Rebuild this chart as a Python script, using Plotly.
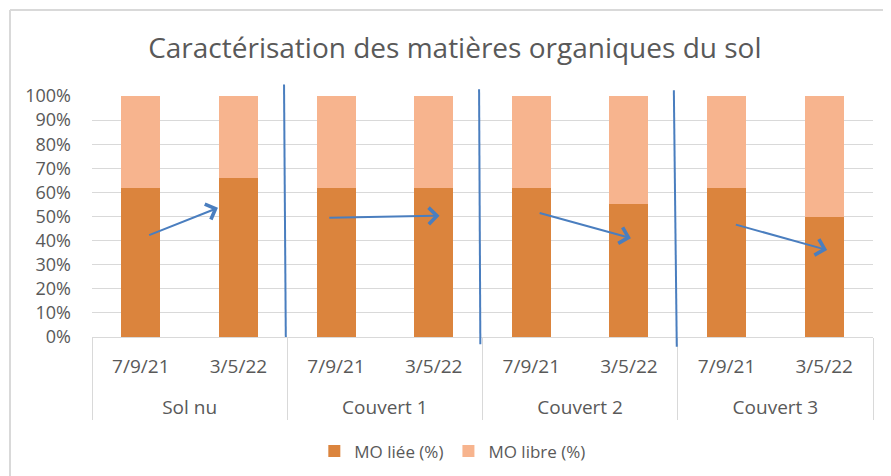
import plotly.graph_objects as go

groups = ["Sol nu", "Sol nu", "Couvert 1", "Couvert 1", "Couvert 2", "Couvert 2", "Couvert 3", "Couvert 3"]
dates = ["7/9/21", "3/5/22"] * 4
mo_liee = [0.62, 0.661, 0.62, 0.62, 0.62, 0.551, 0.62, 0.497]
mo_libre = [1 - v for v in mo_liee]

# hand-drawn arrows (category index, value)
arrow_x0 = [0.07, 1.915, 4.07, 6.08]
arrow_y0 = [0.42, 0.495, 0.516, 0.468]
arrow_x1 = [0.79, 3.06, 5.02, 7.03]
arrow_y1 = [0.536, 0.503, 0.41, 0.361]

# hand-drawn separator lines (category index top/bottom, paper y top/bottom)
sep_x_top = [1.467, 3.465, 5.46]
sep_x_bot = [1.485, 3.478, 5.49]
sep_y_top = [1.048, 1.028, 1.024]
sep_y_bot = [0.0, -0.03, -0.04]

DARK = "#DB843D"
LIGHT = "#F7B48E"
BLUE = "#4A7EBF"
GREY_TXT = "#595959"
FONT = "Open Sans"

# date labels carry an extra blank line to widen the gap to the group row
date_labels = [d + "<br> " for d in dates]

fig = go.Figure()
fig.add_trace(go.Bar(x=[groups, date_labels], y=mo_liee, name="MO liée (%)", marker_color=DARK,
                     marker_line_width=0))
fig.add_trace(go.Bar(x=[groups, date_labels], y=mo_libre, name="MO libre (%)", marker_color=LIGHT,
                     marker_line_width=0))

anns = []
for x0, y0, x1, y1 in zip(arrow_x0, arrow_y0, arrow_x1, arrow_y1):
    anns.append(dict(x=x1, y=y1, ax=x0, ay=y0, xref="x", yref="y", axref="x", ayref="y",
                     showarrow=True, arrowhead=4, arrowsize=1.6, arrowwidth=2, arrowcolor=BLUE, text=""))

shapes = []
for xt, xb, yt, yb in zip(sep_x_top, sep_x_bot, sep_y_top, sep_y_bot):
    shapes.append(dict(type="line", xref="x", yref="paper", x0=xt, x1=xb, y0=yt, y1=yb,
                       line=dict(color=BLUE, width=2)))
# chart area border (top and left visible)
shapes.append(dict(type="line", xref="paper", yref="paper", x0=-0.105, x1=1.1, y0=1.357, y1=1.357,
                   line=dict(color="#D9D9D9", width=2)))
shapes.append(dict(type="line", xref="paper", yref="paper", x0=-0.105, x1=-0.105, y0=1.357, y1=-0.6,
                   line=dict(color="#D9D9D9", width=2)))

fig.update_layout(
    width=883, height=468,
    margin=dict(l=84, r=18, t=88, b=139, autoexpand=False),
    paper_bgcolor="white", plot_bgcolor="white",
    barmode="stack", bargap=0.6,
    font=dict(family=FONT, color=GREY_TXT, size=16),
    title=dict(text="Caractérisation des matières organiques du sol", x=0.506, xanchor="center",
               y=0.9145, yanchor="middle", font=dict(family=FONT, size=28, color=GREY_TXT)),
    legend=dict(orientation="h", x=0.462, xanchor="center", y=-0.475, yanchor="middle",
                font=dict(size=17, color=GREY_TXT), traceorder="normal"),
    annotations=anns, shapes=shapes,
    xaxis=dict(type="multicategory", showline=True, linecolor="#D9D9D9", linewidth=1,
               showdividers=True, dividercolor="#D9D9D9", dividerwidth=1, ticks="",
               ticklabelstandoff=12,
               showgrid=False, tickfont=dict(size=19, color=GREY_TXT), automargin=False),
    yaxis=dict(range=[0, 1], dtick=0.1, tickformat=".0%", showgrid=True, gridcolor="#D9D9D9",
               gridwidth=1, zeroline=False, showline=False, ticklabelstandoff=20,
               tickfont=dict(size=18, color=GREY_TXT), automargin=False),
)

fig.write_html("out.html")
